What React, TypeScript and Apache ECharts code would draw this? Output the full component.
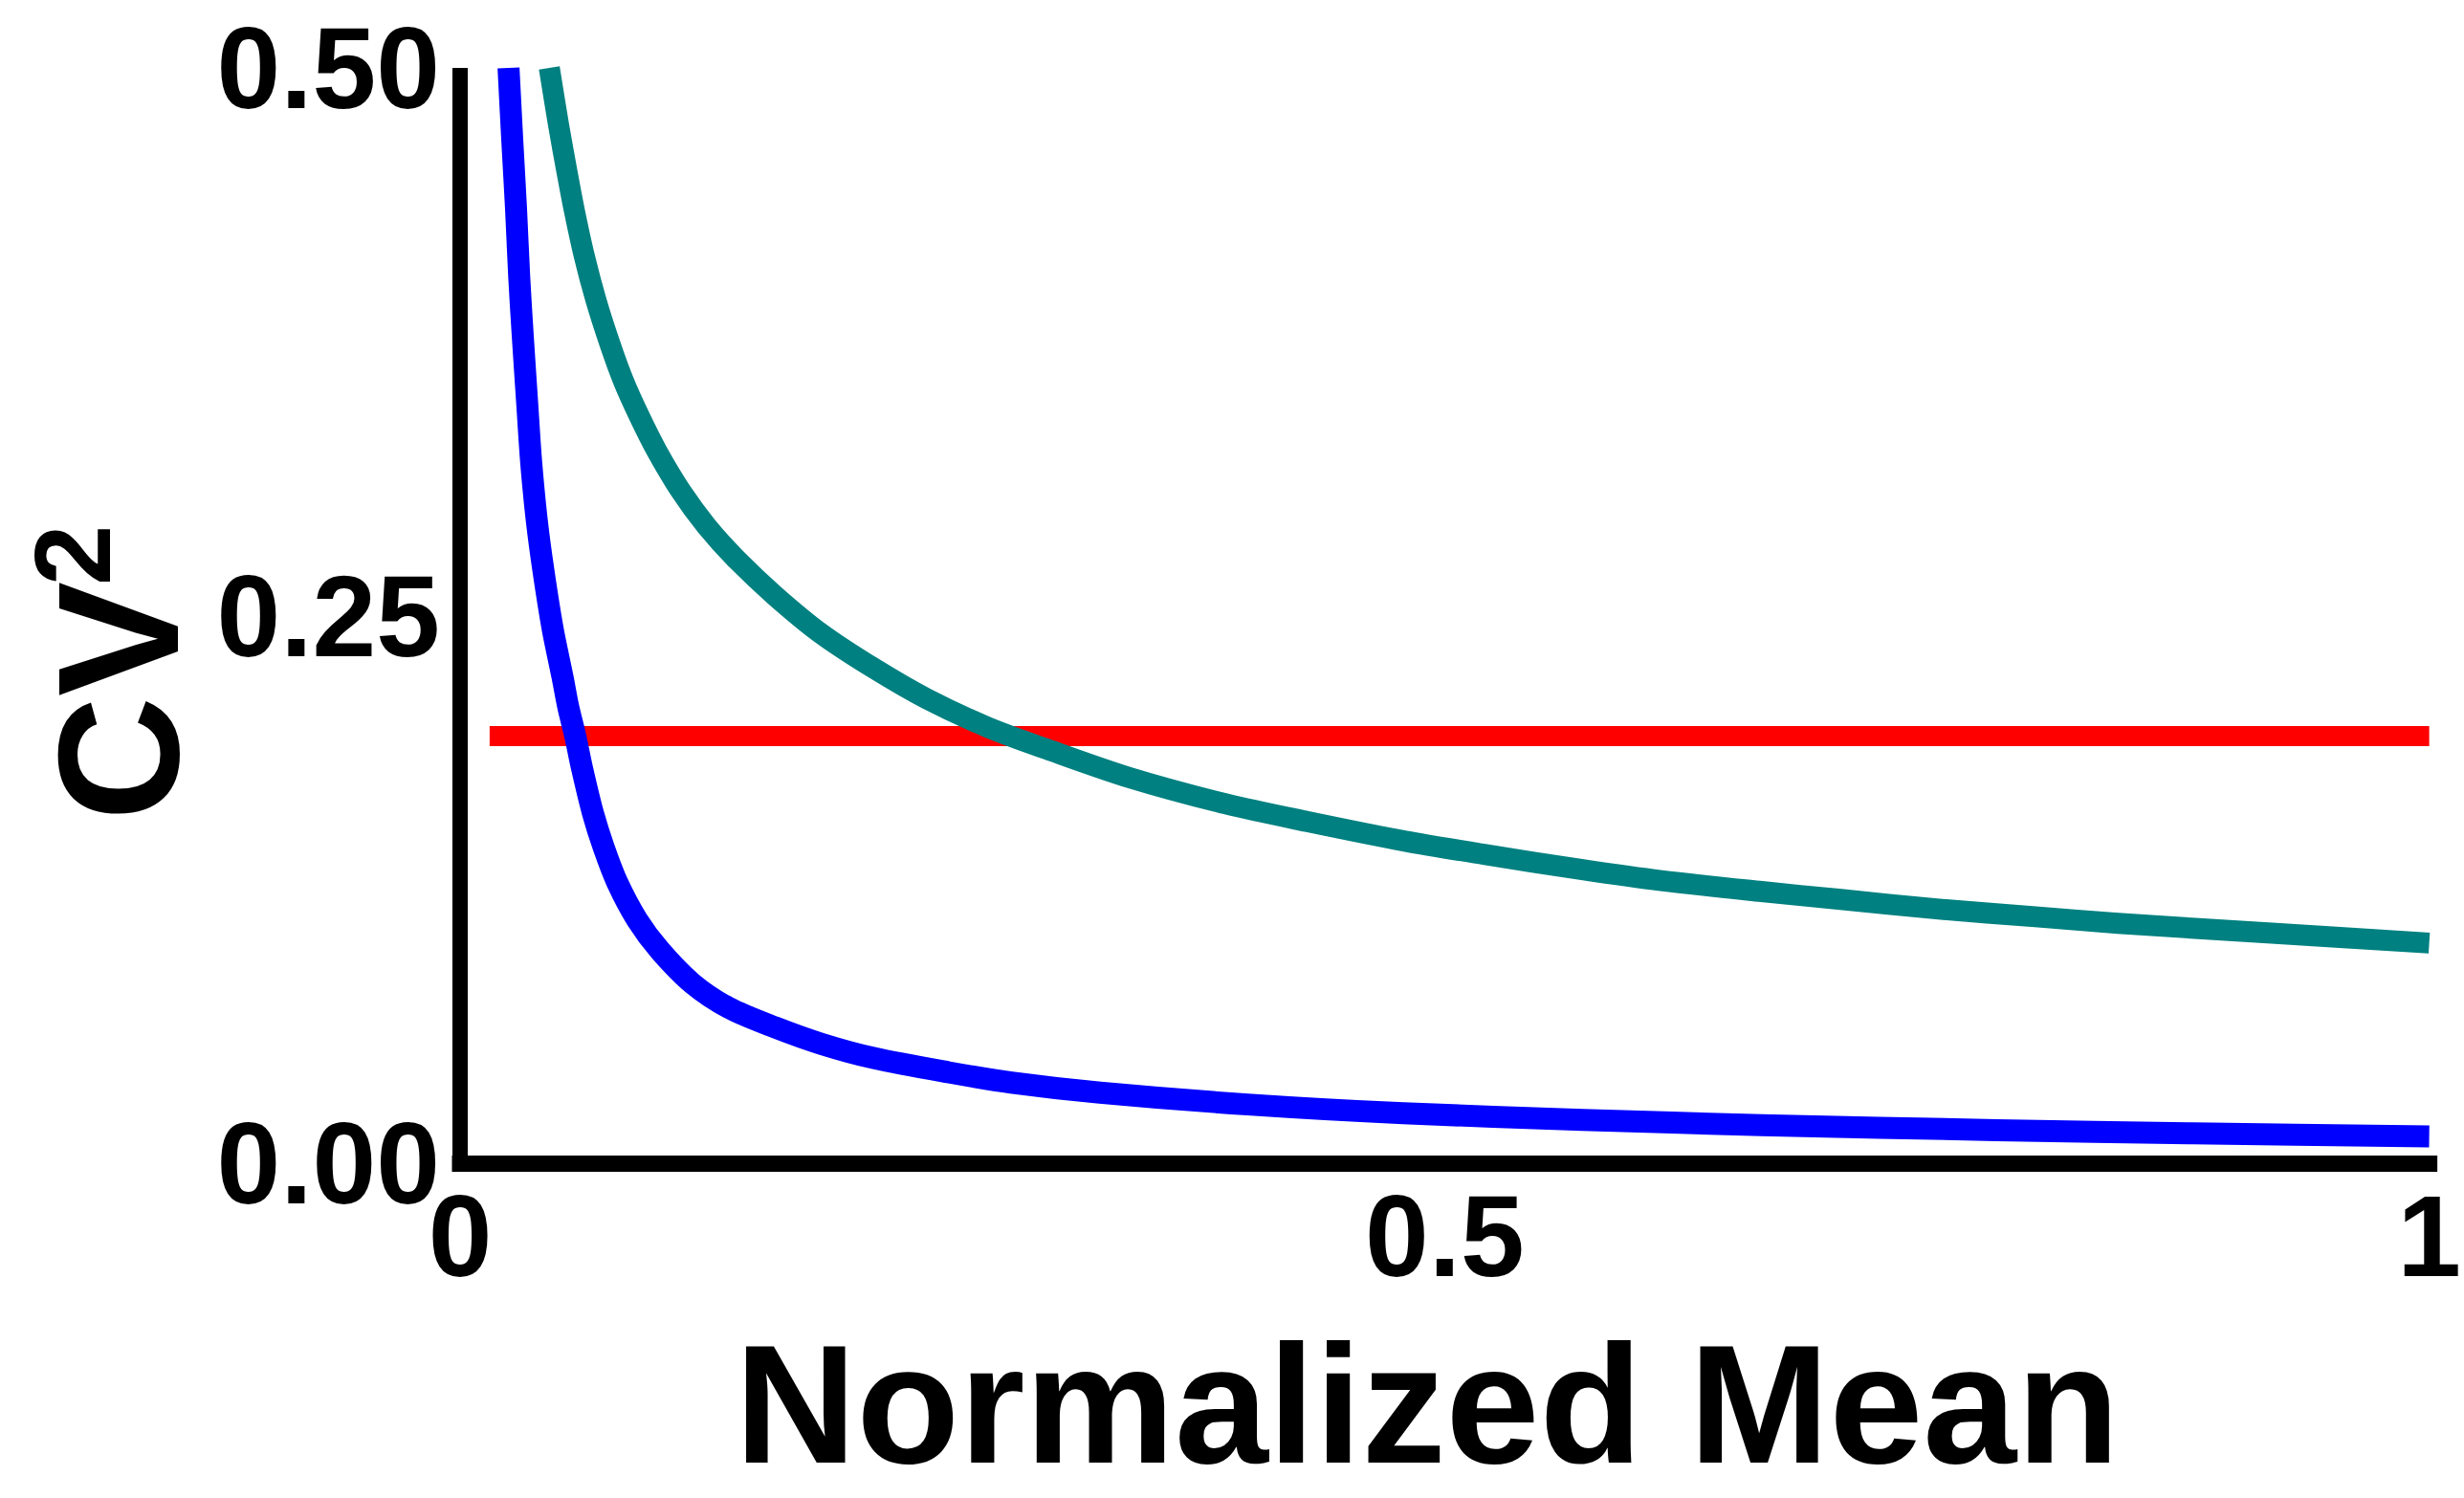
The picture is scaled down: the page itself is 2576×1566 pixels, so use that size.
import React, { useEffect, useRef } from "react";
import * as echarts from "echarts";

// Normalized mean (x) and CV^2 (y)
const blueX = [0.0246, 0.0265, 0.0284, 0.030, 0.0318, 0.034, 0.0361, 0.039, 0.0424, 0.047, 0.052, 0.055, 0.0585, 0.062, 0.0674, 0.073, 0.0799, 0.09, 0.1016, 0.118, 0.1363, 0.16, 0.1834, 0.21, 0.248, 0.28, 0.325, 0.4, 0.479, 0.57, 0.661, 0.78, 0.88, 1.0];
const blueY = [0.5, 0.467, 0.436, 0.405, 0.378, 0.348, 0.32, 0.293, 0.27, 0.244, 0.222, 0.208, 0.195, 0.18, 0.16, 0.144, 0.128, 0.111, 0.097, 0.082, 0.071, 0.062, 0.0545, 0.048, 0.0415, 0.0368, 0.0322, 0.0268, 0.0228, 0.0198, 0.0174, 0.0151, 0.0136, 0.0122];

const tealX = [0.0453, 0.05, 0.0544, 0.058, 0.0631, 0.069, 0.0761, 0.083, 0.091, 0.1, 0.112, 0.125, 0.14, 0.16, 0.183, 0.21, 0.237, 0.268, 0.298, 0.34, 0.389, 0.43, 0.48, 0.52, 0.57, 0.61, 0.661, 0.7, 0.751, 0.8, 0.842, 0.92, 1.0];
const tealY = [0.5, 0.474, 0.452, 0.435, 0.414, 0.394, 0.374, 0.357, 0.341, 0.325, 0.307, 0.291, 0.276, 0.259, 0.242, 0.226, 0.212, 0.199, 0.189, 0.176, 0.164, 0.156, 0.147, 0.141, 0.134, 0.129, 0.124, 0.1205, 0.116, 0.1125, 0.1095, 0.105, 0.1005];

const redX = [0.015, 1.0];
const redY = [0.195, 0.195];

const yTicks = [0, 0.25, 0.5];
const xTicks = [0, 0.5, 1];

const xTitle = "Normalized Mean";
const yTitleMain = "CV";
const yTitleSup = "2";

const pairs = (xs: number[], ys: number[]) => xs.map((x, i) => [x, ys[i]]);

export default function App() {
  const ref = useRef<HTMLDivElement>(null);

  useEffect(() => {
    document.body.style.margin = "0";
    if (!ref.current) return;
    const chart = echarts.init(ref.current, undefined, { renderer: "svg" });
    const font = "'Liberation Sans', Arial, Helvetica, sans-serif";
    chart.setOption({
      animation: false,
      backgroundColor: "#ffffff",
      textStyle: { fontFamily: font },
      grid: { left: 481, right: 17, top: 71, bottom: 350, containLabel: false },
      xAxis: {
        type: "value",
        min: xTicks[0],
        max: xTicks[xTicks.length - 1],
        interval: 0.5,
        splitLine: { show: false },
        axisTick: { show: false },
        axisLine: { show: true, lineStyle: { color: "#000", width: 17, cap: "square" } },
        axisLabel: {
          margin: 16,
          fontSize: 120,
          fontWeight: "bold",
          fontFamily: font,
          color: "#000",
          formatter: (v: number) => String(v),
        },
      },
      yAxis: {
        type: "value",
        min: yTicks[0],
        max: yTicks[yTicks.length - 1],
        interval: 0.25,
        splitLine: { show: false },
        axisTick: { show: false },
        axisLine: { show: true, lineStyle: { color: "#000", width: 16, cap: "butt" } },
        axisLabel: {
          margin: 21,
          fontSize: 120,
          fontWeight: "bold",
          fontFamily: font,
          color: "#000",
          formatter: (v: number) => v.toFixed(2),
        },
      },
      graphic: [
        {
          type: "text",
          x: 1492,
          y: 1468,
          style: {
            text: xTitle,
            fontSize: 176,
            fontWeight: "bold",
            fontFamily: font,
            fill: "#000",
            align: "center",
            verticalAlign: "middle",
          },
        },
        {
          type: "text",
          x: 123,
          y: 858,
          rotation: Math.PI / 2,
          style: {
            text: yTitleMain,
            fontSize: 180,
            fontWeight: "bold",
            fontFamily: font,
            fill: "#000",
            align: "left",
            verticalAlign: "middle",
          },
        },
        {
          type: "text",
          x: 75,
          y: 612,
          rotation: Math.PI / 2,
          style: {
            text: yTitleSup,
            fontSize: 114,
            fontWeight: "bold",
            fontFamily: font,
            fill: "#000",
            align: "left",
            verticalAlign: "middle",
          },
        },
      ],
      series: [
        {
          type: "line",
          name: "threshold",
          data: pairs(redX, redY),
          showSymbol: false,
          lineStyle: { color: "#ff0000", width: 21, cap: "butt" },
          z: 2,
        },
        {
          type: "line",
          name: "teal",
          data: pairs(tealX, tealY),
          smooth: 0.3,
          showSymbol: false,
          lineStyle: { color: "#008080", width: 22, cap: "butt", join: "round" },
          z: 3,
        },
        {
          type: "line",
          name: "blue",
          data: pairs(blueX, blueY),
          smooth: 0.3,
          showSymbol: false,
          lineStyle: { color: "#0000ff", width: 23, cap: "butt", join: "round" },
          z: 4,
        },
      ],
    });
    return () => chart.dispose();
  }, []);

  return <div ref={ref} style={{ width: 2576, height: 1566 }} />;
}
